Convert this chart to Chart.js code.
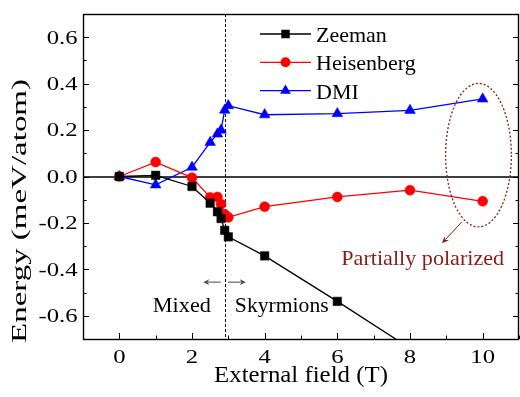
<!DOCTYPE html>
<html><head><meta charset="utf-8">
<script src="https://cdn.jsdelivr.net/npm/chart.js@4/dist/chart.umd.min.js"></script>
<style>html,body{margin:0;padding:0;background:#fff;overflow:hidden}canvas{display:block}</style>
</head><body>
<canvas id="c" width="520" height="397"></canvas>
<script>
// ---- data ----
const fields     = [0, 1, 2, 2.5, 2.7, 2.8, 2.9, 3, 4, 6, 8, 10];
const zeeman     = [0, 0.005, -0.043, -0.115, -0.152, -0.181, -0.232, -0.26, -0.342, -0.538, -0.74, -0.94];
const heisenberg = [0, 0.062, -0.005, -0.09, -0.088, -0.119, -0.163, -0.176, -0.13, -0.088, -0.059, -0.107];
const dmi        = [0, -0.036, 0.04, 0.147, 0.183, 0.2, 0.286, 0.305, 0.266, 0.271, 0.285, 0.334];
const seriesNames = ['Zeeman', 'Heisenberg', 'DMI'];
const xTickLabels = [0, 2, 4, 6, 8, 10];
const yTickLabels = [-0.6, -0.4, -0.2, 0.0, 0.2, 0.4, 0.6];
const xTitle = 'External field (T)';
const yTitle = 'Energy (meV/atom)';
const transitionField = 2.9;
const regionLabels = ['Mixed', 'Skyrmions'];
const noteText = 'Partially polarized';

const FONT = "'Liberation Serif','Times New Roman',serif";
const DARKRED = '#8b1a1a';

function pts(vals){ return fields.map((f,i)=>({x:f, y:vals[i]})); }

const styles = [
  {color:'#000000', pointStyle:'rect', radius:6},
  {color:'#ff0000', pointStyle:'circle', radius:5},
  {color:'#0000ff', pointStyle:'triangle', radius:6.2}
];
const seriesVals = [zeeman, heisenberg, dmi];

const datasets = seriesNames.map((n,i)=>({
  label:n, data:pts(seriesVals[i]), showLine:true,
  borderColor:styles[i].color, backgroundColor:styles[i].color,
  borderWidth:1.3, pointStyle:styles[i].pointStyle, pointRadius:styles[i].radius,
  pointBorderWidth:0.5, pointBorderColor:styles[i].color, pointHoverRadius:styles[i].radius
}));

function marker(ctx, style, x, y, r, color){
  ctx.save();
  ctx.fillStyle = color;
  ctx.beginPath();
  if (style === 'rect'){ const s = r*Math.SQRT1_2; ctx.rect(x-s, y-s, 2*s, 2*s); }
  else if (style === 'circle'){ ctx.arc(x, y, r, 0, Math.PI*2); }
  else {
    for (let k=0;k<3;k++){ const a = -Math.PI/2 + k*2*Math.PI/3; const px=x+r*Math.cos(a), py=y+r*Math.sin(a); k?ctx.lineTo(px,py):ctx.moveTo(px,py); }
    ctx.closePath();
  }
  ctx.fill();
  ctx.restore();
}

function arrow(ctx, x1, y1, x2, y2, color, head, half){
  const ang = Math.atan2(y2-y1, x2-x1);
  ctx.save();
  ctx.strokeStyle = color; ctx.fillStyle = color; ctx.lineWidth = 1;
  ctx.beginPath(); ctx.moveTo(x1,y1);
  ctx.lineTo(x2 - head*0.8*Math.cos(ang), y2 - head*0.8*Math.sin(ang)); ctx.stroke();
  ctx.beginPath();
  ctx.moveTo(x2, y2);
  ctx.lineTo(x2 - head*Math.cos(ang) + half*Math.sin(ang), y2 - head*Math.sin(ang) - half*Math.cos(ang));
  ctx.lineTo(x2 - head*0.7*Math.cos(ang), y2 - head*0.7*Math.sin(ang));
  ctx.lineTo(x2 - head*Math.cos(ang) - half*Math.sin(ang), y2 - head*Math.sin(ang) + half*Math.cos(ang));
  ctx.closePath(); ctx.fill();
  ctx.restore();
}

// text with a horizontal stretch (the reference glyphs are wider than the font)
function sText(ctx, txt, x, y, size, sx, align, color, rot, targetLen){
  ctx.save();
  ctx.font = size + 'px ' + FONT;
  ctx.fillStyle = color || '#000';
  ctx.textAlign = align; ctx.textBaseline = 'alphabetic';
  ctx.translate(x, y);
  if (rot) ctx.rotate(rot);
  if (targetLen) sx = targetLen / ctx.measureText(txt).width;
  ctx.scale(sx, 1);
  ctx.fillText(txt, 0, 0);
  ctx.restore();
}

const decor = {
  id:'decor',
  beforeDatasetsDraw(chart){
    const {ctx, chartArea:a, scales:{x, y}} = chart;
    ctx.save();
    const y0 = Math.round(y.getPixelForValue(0));
    ctx.strokeStyle = '#000'; ctx.lineWidth = 1.7;
    ctx.beginPath(); ctx.moveTo(a.left, y0); ctx.lineTo(a.right, y0); ctx.stroke();
    const xt = Math.round(x.getPixelForValue(transitionField)) + 0.5;
    ctx.lineWidth = 1; ctx.setLineDash([3, 2]);
    ctx.beginPath(); ctx.moveTo(xt, a.top); ctx.lineTo(xt, a.bottom); ctx.stroke();
    ctx.restore();
  },
  afterDraw(chart){
    const {ctx, chartArea:a, scales:{x, y}} = chart;
    ctx.save();
    // ticks (inward)
    ctx.strokeStyle = '#000'; ctx.lineWidth = 1;
    for (let v = -1; v <= 11; v++){
      const px = Math.round(x.getPixelForValue(v)) + 0.5;
      const len = (v % 2 === 0) ? 6 : 3.5;
      ctx.beginPath(); ctx.moveTo(px, a.bottom); ctx.lineTo(px, a.bottom - len); ctx.stroke();
    }
    for (let k = -7; k <= 7; k++){
      const py = Math.round(y.getPixelForValue(k/10)) + 0.5;
      const len = (k % 2 === 0) ? 6 : 3.5;
      ctx.beginPath(); ctx.moveTo(a.left, py); ctx.lineTo(a.left + len, py); ctx.stroke();
      ctx.beginPath(); ctx.moveTo(a.right, py); ctx.lineTo(a.right - len, py); ctx.stroke();
    }
    // frame
    ctx.lineWidth = 1.4;
    ctx.strokeRect(a.left + 0.5, a.top + 0.5, a.right - a.left - 1, a.bottom - a.top);
    // tick labels
    xTickLabels.forEach(v => sText(ctx, String(v), x.getPixelForValue(v), a.bottom + 24.3, 19, 1.3, 'center'));
    yTickLabels.forEach(v => sText(ctx, Math.abs(v) < 1e-9 ? '0.0' : v.toFixed(1), a.left - 5.5, y.getPixelForValue(v) + 6.4, 19, 1.3, 'right'));
    // axis titles
    sText(ctx, xTitle, (a.left + a.right)/2, a.bottom + 42.7, 23, 1.08, 'center');
    sText(ctx, yTitle, 25.5, 211, 21, 1, 'center', '#000', -Math.PI/2, 264);
    // legend
    const lx0 = a.left + 177, lx1 = a.left + 228, lmx = (lx0 + lx1)/2, ltx = a.left + 233;
    seriesNames.forEach((n, i) => {
      const ly = a.top + 20 + i*28.3;
      ctx.strokeStyle = styles[i].color; ctx.lineWidth = 1.3;
      ctx.beginPath(); ctx.moveTo(lx0, ly); ctx.lineTo(lx1, ly); ctx.stroke();
      marker(ctx, styles[i].pointStyle, lmx, ly, styles[i].radius, styles[i].color);
      sText(ctx, n, ltx, ly + 8, 22, 1.0, 'left');
    });
    // region arrows & labels
    const ay = y.getPixelForValue(-0.455);
    arrow(ctx, x.getPixelForValue(2.79), ay, x.getPixelForValue(2.31), ay, '#444', 6, 2.8);
    arrow(ctx, x.getPixelForValue(2.99), ay, x.getPixelForValue(3.48), ay, '#444', 6, 2.8);
    const ly = y.getPixelForValue(-0.584);
    sText(ctx, regionLabels[0], x.getPixelForValue(1.72), ly, 21, 1.06, 'center');
    sText(ctx, regionLabels[1], x.getPixelForValue(4.47), ly, 21, 1.03, 'center');
    // ellipse
    const cx = x.getPixelForValue(9.885), cy = y.getPixelForValue(0.092);
    const rx = x.getPixelForValue(10.79) - cx, ry = cy - y.getPixelForValue(0.401);
    ctx.strokeStyle = DARKRED; ctx.lineWidth = 1.3; ctx.setLineDash([2, 2]);
    ctx.beginPath(); ctx.ellipse(cx, cy, rx, ry, 0, 0, Math.PI*2); ctx.stroke();
    ctx.setLineDash([]);
    arrow(ctx, x.getPixelForValue(9.43), y.getPixelForValue(-0.195), x.getPixelForValue(8.88), y.getPixelForValue(-0.288), DARKRED, 7, 3);
    sText(ctx, noteText, x.getPixelForValue(8.35), y.getPixelForValue(-0.382), 21.5, 1.03, 'center', DARKRED);
    ctx.restore();
  }
};

new Chart(document.getElementById('c'), {
  type:'scatter',
  data:{datasets},
  options:{
    responsive:false, animation:false, devicePixelRatio:1,
    layout:{padding:{top:14, right:1, left:0, bottom:0}, autoPadding:false},
    plugins:{legend:{display:false}, tooltip:{enabled:false}},
    elements:{line:{tension:0}},
    scales:{
      x:{
        type:'linear', min:-1, max:11,
        grid:{display:false, drawTicks:false}, border:{display:false},
        ticks:{display:false, stepSize:1},
        title:{display:false},
        afterFit(s){ s.height = 58; s.paddingLeft = 0; s.paddingRight = 0; }
      },
      y:{
        type:'linear', min:-0.7, max:0.7,
        grid:{display:false, drawTicks:false}, border:{display:false},
        ticks:{display:false, stepSize:0.1},
        title:{display:false},
        afterFit(s){ s.width = 83; s.paddingTop = 0; s.paddingBottom = 0; }
      }
    }
  },
  plugins:[decor]
});
</script>
</body></html>
